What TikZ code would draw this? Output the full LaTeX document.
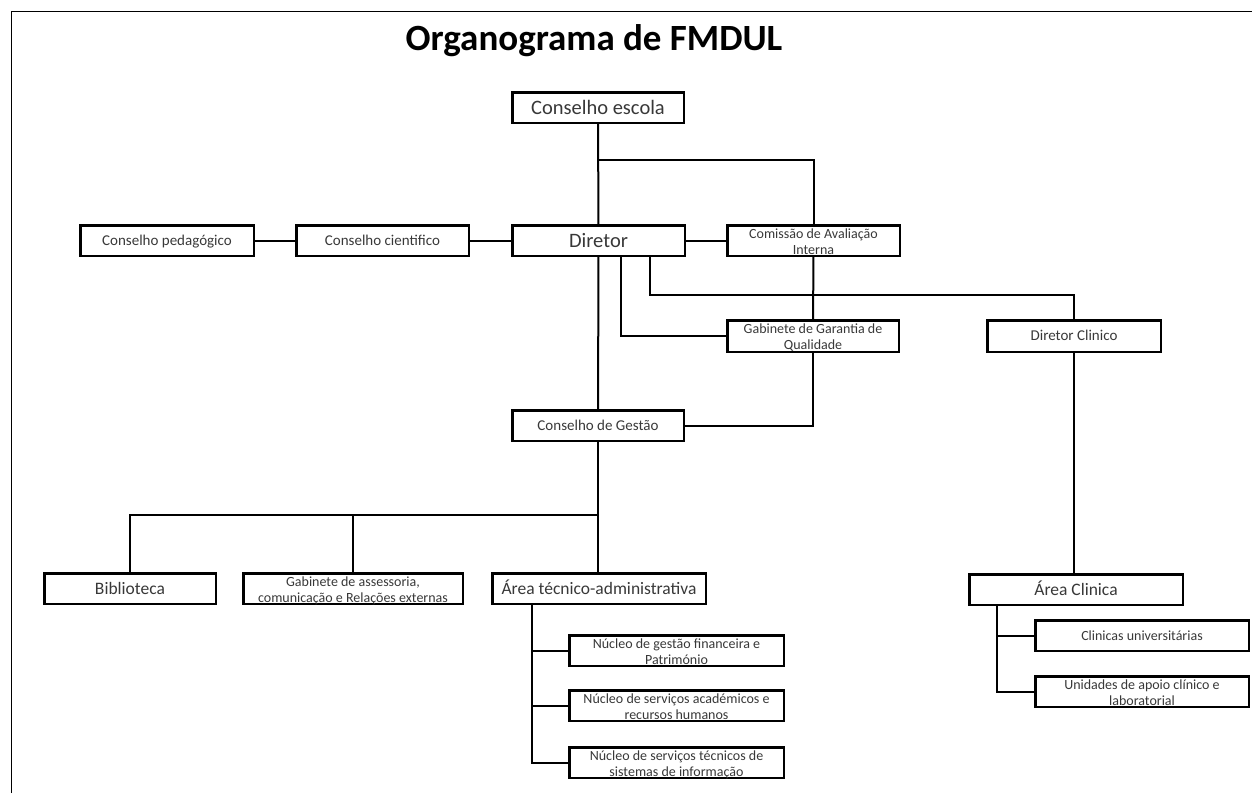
\documentclass[tikz,border=0pt]{standalone}
\usepackage{fontspec}
\setmainfont{Carlito}
\usetikzlibrary{positioning}

\begin{document}
\begin{tikzpicture}[x=1pt,y=-1pt,
    box/.style={draw, line width=2.5pt, inner sep=0pt, align=center, text=black!78, minimum height=30.5pt},
    link/.style={line width=2pt},
    fbig/.style={font=\fontsize{20.5}{24}\selectfont, text height=13.2pt, text depth=0pt},
    fmid/.style={font=\fontsize{17.5}{20}\selectfont, text height=11.3pt, text depth=0pt},
    fnorm/.style={font=\fontsize{15}{18}\selectfont, text height=9.7pt, text depth=0pt},
    fone/.style={font=\fontsize{14}{16}\selectfont, text height=9pt, text depth=0pt},
    ftwo/.style={font=\fontsize{14}{16}\selectfont, text height=27pt, text depth=0pt}]
    \useasboundingbox (0,0) rectangle (1252,793);
    \draw[line width=1pt] (11,793) -- (11,11) -- (1252,11);
    \node[font=\bfseries\fontsize{37}{40}\selectfont, anchor=base] (title) at (594,50) {Organograma de FMDUL};

    % topo
    \node[box,fbig,minimum width=171.5pt] (esc) at (598,107.5) {Conselho escola};
    \node[box,fbig,minimum width=172.5pt] (dir) at (598.5,240.5) {Diretor};
    \node[box,fnorm,minimum width=172.5pt] (cie) at (382.5,240.5) {Conselho cientifico};
    \node[box,fnorm,minimum width=173.5pt] (ped) at (167,240.5) {Conselho pedagógico};
    \node[box,ftwo,minimum width=172.5pt] (com) at (813.5,240.5) {Comissão de Avaliação\\Interna};
    \node[box,ftwo,minimum width=171.5pt,minimum height=31.5pt] (gq) at (813,336) {Gabinete de Garantia de\\Qualidade};
    \node[box,fnorm,minimum width=173.5pt,minimum height=31.5pt] (dc) at (1074,336) {Diretor Clinico};
    \node[box,fnorm,minimum width=171.5pt] (ges) at (598,425.5) {Conselho de Gestão};

    % segundo nivel
    \node[box,fmid,minimum width=171.5pt] (bib) at (130,588.5) {Biblioteca};
    \node[box,ftwo,minimum width=219.5pt] (gab) at (353,588.5) {Gabinete de assessoria,\\comunicação e Relações externas};
    \node[box,fmid,minimum width=213.5pt] (atec) at (599,588.5) {Área técnico-administrativa};
    \node[box,fmid,minimum width=213.5pt] (acl) at (1076,589.5) {Área Clinica};

    \node[box,ftwo,minimum width=214.5pt] (n1) at (676.5,650.5) {Núcleo de gestão financeira e\\Património};
    \node[box,ftwo,minimum width=214.5pt] (n2) at (676.5,705.5) {Núcleo de serviços académicos e\\recursos humanos};
    \node[box,ftwo,minimum width=214.5pt] (n3) at (676.5,762.5) {Núcleo de serviços técnicos de\\sistemas de informação};
    \node[box,fone,minimum width=213.5pt] (cu) at (1142,635.5) {Clinicas universitárias};
    \node[box,ftwo,minimum width=213.5pt] (ua) at (1142,691.5) {Unidades de apoio clínico e\\laboratorial};

    \coordinate (j1) at (598,160);
    \coordinate (j2) at (598,515);

    \draw[link] (esc) -- (dir);
    \draw[link] (j1) -| (com);
    \draw[link] (ped) -- (cie);
    \draw[link] (cie) -- (dir);
    \draw[link] (dir) -- (com);
    \draw[link] (com) -- (gq);
    \draw[link] ([xshift=22.5pt]dir.south) |- (gq);
    \draw[link] ([xshift=51.5pt]dir.south) |- ([yshift=24pt]dc.north) -- (dc);
    \draw[link] (dir) -- (ges);
    \draw[link] (gq) |- (ges);
    \draw[link] (dc) -- (dc |- acl.north);
    \draw[link] (ges) -- (ges |- atec.north);
    \draw[link] (j2) -| (bib);
    \draw[link] (j2) -| (gab);
    \draw[link] ([xshift=-67pt]atec.south) |- (n1);
    \draw[link] ([xshift=-67pt]atec.south) |- (n2);
    \draw[link] ([xshift=-67pt]atec.south) |- (n3);
    \draw[link] ([xshift=-79pt]acl.south) |- (cu);
    \draw[link] ([xshift=-79pt]acl.south) |- (ua);
\end{tikzpicture}
\end{document}
